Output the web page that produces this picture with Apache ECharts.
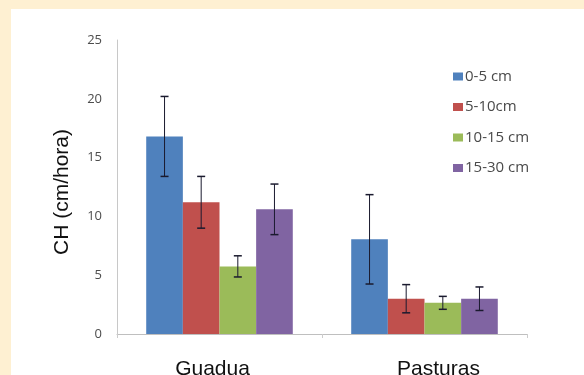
<!DOCTYPE html>
<html><head><meta charset="utf-8">
<script src="https://cdn.jsdelivr.net/npm/echarts@6/dist/echarts.min.js"></script>
<style>html,body{margin:0;padding:0;background:#fef0d2;}#wrap{position:absolute;left:11px;top:9px;width:573px;height:366px;background:#fff;}#c{position:absolute;left:0;top:0;width:584px;height:375px;}</style>
</head><body><div id="wrap"></div><div id="c"></div>
<script>
var categories = ['Guadua', 'Pasturas'];
var seriesNames = ['0-5 cm', '5-10cm', '10-15 cm', '15-30 cm'];
var v0_5 = [16.8, 8.05];
var v5_10 = [11.2, 3.0];
var v10_15 = [5.75, 2.65];
var v15_30 = [10.6, 3.0];
var e0_5 = [3.4, 3.8];
var e5_10 = [2.2, 1.2];
var e10_15 = [0.9, 0.55];
var e15_30 = [2.15, 1.0];
var yTicks = [0, 5, 10, 15, 20, 25];

var values = [v0_5, v5_10, v10_15, v15_30];
var errs = [e0_5, e5_10, e10_15, e15_30];
var colors = ['#4f81bd', '#c0504d', '#9bbb59', '#8064a2'];
var gapRatio = 0.285;

var chart = echarts.init(document.getElementById('c'), null, {renderer: 'canvas'});
var series = [];
values.forEach(function (vals, i) {
  series.push({
    name: seriesNames[i], type: 'bar', data: vals, barGap: '0%', barCategoryGap: (gapRatio * 100) + '%',
    itemStyle: {color: colors[i]}, z: 2
  });
});
values.forEach(function (vals, i) {
  series.push({
    type: 'custom', z: 5, silent: true,
    data: vals.map(function (v, j) { return [j, v - errs[i][j], v + errs[i][j]]; }),
    encode: {x: 0, y: [1, 2]},
    renderItem: function (params, api) {
      var band = api.size([1, 0])[0];
      var bw = band * (1 - gapRatio) / 4;
      var c0 = api.coord([api.value(0), api.value(1)]);
      var c1 = api.coord([api.value(0), api.value(2)]);
      var x = c0[0] + (i - 1.5) * bw;
      var cap = 4;
      var st = {stroke: '#1a1a2e', lineWidth: 1};
      return {type: 'group', children: [
        {type: 'line', shape: {x1: x, y1: c0[1], x2: x, y2: c1[1]}, style: st},
        {type: 'line', shape: {x1: x - cap, y1: c0[1], x2: x + cap, y2: c0[1]}, style: {stroke: '#1a1a2e', lineWidth: 1.5}},
        {type: 'line', shape: {x1: x - cap, y1: c1[1], x2: x + cap, y2: c1[1]}, style: {stroke: '#1a1a2e', lineWidth: 1.5}}
      ]};
    }
  });
});

chart.setOption({
  animation: false,
  grid: {left: 117, right: 57, top: 40, bottom: 41, containLabel: false, outerBoundsMode: 'none'},
  legend: {
    data: seriesNames, orient: 'vertical', left: 448, top: 64, itemGap: 15.5,
    itemWidth: 10, itemHeight: 8, icon: 'rect',
    textStyle: {fontFamily: 'Open Sans', fontSize: 15, color: '#4a4a4a', padding: [0, 0, 0, -3]}
  },
  xAxis: {
    type: 'category', data: categories,
    axisLine: {lineStyle: {color: '#bfbfbf', width: 1}},
    axisTick: {show: true, length: 4, lineStyle: {color: '#cccccc'}},
    axisLabel: {fontFamily: 'Liberation Sans', fontSize: 21, color: '#111', margin: 24.5,
      formatter: function (v, i) { return i === 0 ? '{a|' + v + '}' : '{b|' + v + '}'; },
      rich: {
        a: {fontFamily: 'Liberation Sans', fontSize: 21, color: '#111', padding: [0, 14, 0, 0]},
        b: {fontFamily: 'Liberation Sans', fontSize: 21, color: '#111', padding: [0, 0, 0, 28]}
      }}
  },
  yAxis: {
    type: 'value', min: 0, max: 25, interval: 5,
    name: 'CH (cm/hora)', nameLocation: 'middle', nameGap: 44, nameRotate: 90,
    nameTextStyle: {fontFamily: 'Liberation Sans', fontSize: 21, color: '#111', padding: [0, 10, 0, 0]},
    axisLine: {show: true, lineStyle: {color: '#c8c8c8', width: 1}},
    axisTick: {show: false},
    splitLine: {show: false},
    axisLabel: {fontFamily: 'Open Sans', fontSize: 13, color: '#4d4d4d', margin: 15,
      formatter: function (v) { return yTicks.indexOf(v) >= 0 ? String(v) : ''; }}
  },
  series: series
});
</script></body></html>
